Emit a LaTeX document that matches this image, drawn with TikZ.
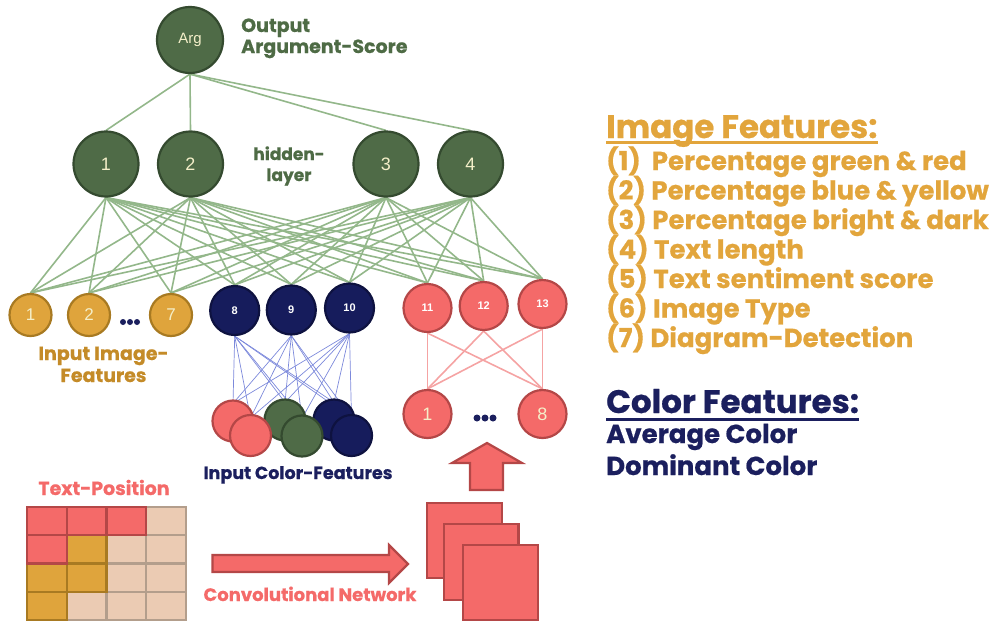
\documentclass[tikz,border=0pt]{standalone}
\usepackage{fontspec}
\newfontfamily\pop{Poppins}[BoldFeatures={FakeBold=0.6}]
\newfontfamily\arial{Liberation Sans}
\definecolor{gfill}{HTML}{4F6B47}
\definecolor{gdraw}{HTML}{344A2F}
\definecolor{gline}{HTML}{93B78A}
\definecolor{yfill}{HTML}{DFA43C}
\definecolor{ydraw}{HTML}{A87A22}
\definecolor{nfill}{HTML}{161C5C}
\definecolor{ndraw}{HTML}{0E1240}
\definecolor{rfill}{HTML}{F46A69}
\definecolor{rdraw}{HTML}{B44747}
\definecolor{pline}{HTML}{F5A3A3}
\definecolor{bline}{HTML}{7C89DB}
\definecolor{otext}{HTML}{E2A53C}
\definecolor{olabel}{HTML}{C48B28}
\definecolor{gtext}{HTML}{4E6B45}
\definecolor{ntext}{HTML}{1B1F5E}
\definecolor{cream}{HTML}{F4EFC9}
\definecolor{beige}{HTML}{EBCBB3}
\definecolor{bdraw}{HTML}{B39E8C}
\pgfdeclarelayer{background}
\pgfsetlayers{background,main}
\newcommand{\fs}[1]{\fontsize{#1}{#1}\selectfont}
\begin{document}
\begin{tikzpicture}[x=1pt,y=-1pt,
  neuron/.style={circle,inner sep=0pt,line width=2.2pt,font=\arial\fs{18},text=cream},
  gnode/.style={neuron,fill=gfill,draw=gdraw,minimum size=65pt},
  ynode/.style={neuron,fill=yfill,draw=ydraw,minimum size=42pt,font=\arial\fs{17}},
  nnode/.style={neuron,fill=nfill,draw=ndraw,minimum size=49pt,text=white,font=\arial\bfseries\fs{11}},
  rnode/.style={neuron,fill=rfill,draw=rdraw,minimum size=48pt,text=white,font=\arial\bfseries\fs{11}},
  rbig/.style={rnode,text=cream,font=\arial\fs{18}},
  cnode/.style={circle,inner sep=0pt,line width=2.2pt,minimum size=41pt},
  lbl/.style={inner sep=0pt},
  gconn/.style={draw=gline,line width=1.6pt},
  bconn/.style={draw=bline,line width=0.7pt},
  pconn/.style={draw=pline,line width=1.6pt},
  cell/.style={line width=2.2pt}
]
\useasboundingbox (0,0) rectangle (997,624);

% output
\node[gnode,minimum size=66pt,font=\arial\fs{15}] (arg) at (190,40) {Arg};
% hidden
\node[gnode] (h1) at (106,164) {1};
\node[gnode] (h2) at (190.5,164) {2};
\node[gnode] (h3) at (386,164) {3};
\node[gnode] (h4) at (470.5,164) {4};
% inputs
\node[ynode] (i1) at (30.5,315) {1};
\node[ynode] (i2) at (89,315) {2};
\node[ynode] (i7) at (171,315) {7};
\node[nnode] (i8) at (234.7,310.5) {8};
\node[nnode] (i9) at (291.3,310) {9};
\node[nnode] (i10) at (349.5,308) {10};
\node[rnode] (i11) at (427.5,308) {11};
\node[rnode] (i12) at (483.7,306) {12};
\node[rnode] (i13) at (542.5,304) {13};
% cnn outputs
\node[rbig] (r1) at (427.5,414) {1};
\node[rbig] (r8) at (542.5,414) {8};
% color feature circles (back row, then front row)
\node[cnode,fill=rfill,draw=rdraw] (cp1) at (233,421) {};
\node[cnode,fill=gfill,draw=gdraw] (cg1) at (285,420) {};
\node[cnode,fill=nfill,draw=ndraw] (cn1) at (334,420) {};
\node[cnode,fill=rfill,draw=rdraw] (cp2) at (250.5,435.5) {};
\node[cnode,fill=gfill,draw=gdraw] (cg2) at (302,436) {};
\node[cnode,fill=nfill,draw=ndraw] (cn2) at (351.5,435.5) {};

\begin{pgfonlayer}{background}
  \foreach \h in {h1,h2,h3,h4}{
    \draw[gconn] (arg.south) -- (\h.north);
    \foreach \i in {i1,i2,i7,i8,i9,i10,i11,i12,i13}{
      \draw[gconn] (\h.south) -- (\i.north);
    }
  }
  \foreach \t in {i8,i9,i10}{
    \foreach \c in {cp1,cp2,cg1,cg2,cn1,cn2}{
      \draw[bconn] (\t.south) -- ([yshift=-4pt]\c.north);
    }
  }
  \foreach \t in {i11,i12,i13}{
    \foreach \c in {r1,r8}{
      \draw[pconn] (\t.south) -- (\c.north);
    }
  }
\end{pgfonlayer}

% dots
\foreach \x in {123,130,137}{\fill[ntext] (\x,322) circle (3pt);}
\foreach \x in {477,485,493}{\fill[ntext] (\x,418) circle (3.5pt);}

% labels
\node[lbl,text=gtext,anchor=base west,font=\pop\bfseries\fs{19}] (lo1) at (241,32) {Output};
\node[lbl,text=gtext,anchor=base west,font=\pop\bfseries\fs{19}] (lo2) at (241,53) {Argument-Score};
\node[lbl,text=gtext,anchor=base,font=\pop\bfseries\fs{17}] (lh1) at (289,160) {hidden-};
\node[lbl,text=gtext,anchor=base,font=\pop\bfseries\fs{17}] (lh2) at (289,181) {layer};
\node[lbl,text=olabel,anchor=base,font=\pop\bfseries\fs{19}] (li1) at (103.5,360) {Input Image-};
\node[lbl,text=olabel,anchor=base,font=\pop\bfseries\fs{19}] (li2) at (103.5,382) {Features};
\node[lbl,text=ntext,anchor=base,font=\pop\bfseries\fs{17.5}] (lc) at (298,479) {Input Color-Features};
\node[lbl,text=rfill,anchor=base,font=\pop\bfseries\fs{19}] (lt) at (104,495) {Text-Position};
\node[lbl,text=rfill,anchor=base,font=\pop\bfseries\fs{18}] (lconv) at (310,601) {Convolutional Network};

% grid
\def\gx{27}\def\gy{507}\def\cw{39.7}\def\ch{28.25}
\foreach \r/\c/\f/\d in {0/3/beige/bdraw,1/2/beige/bdraw,1/3/beige/bdraw,2/2/beige/bdraw,2/3/beige/bdraw,3/1/beige/bdraw,3/2/beige/bdraw,3/3/beige/bdraw,
  1/1/yfill/ydraw,2/0/yfill/ydraw,2/1/yfill/ydraw,3/0/yfill/ydraw,
  0/0/rfill/rdraw,0/1/rfill/rdraw,0/2/rfill/rdraw,1/0/rfill/rdraw}{
  \draw[cell,fill=\f,draw=\d] ({\gx+\c*\cw},{\gy+\r*\ch}) rectangle ++(\cw,\ch);
}

% right arrow
\draw[fill=rfill,draw=rdraw,line width=2.2pt,line join=miter]
  (212.5,555) -- (389,555) -- (389,545) -- (408,564) -- (389,583) -- (389,572) -- (212.5,572) -- cycle;
% up arrow
\draw[fill=rfill,draw=rdraw,line width=2.2pt,line join=miter]
  (470,490) -- (470,463) -- (452,463) -- (487,443) -- (522,463) -- (503,463) -- (503,490) -- cycle;
% stacked squares
\draw[fill=rfill,draw=rdraw,line width=2.2pt] (427,503) rectangle (502,578);
\draw[fill=rfill,draw=rdraw,line width=2.2pt] (444,524) rectangle (518.5,600);
\draw[fill=rfill,draw=rdraw,line width=2.2pt] (463,545) rectangle (538,620);

% right text
\node[lbl,text=otext,anchor=base west,font=\pop\bfseries\fs{32.5}] (tif) at (606,138) {Image Features:};
\draw[otext,line width=2.2pt] (606,142.5) -- (tif.base east |- 0,142.5);
\foreach \t [count=\k from 0] in {{(1)\ \ Percentage green \& red},{(2) Percentage blue \& yellow},{(3) Percentage bright \& dark},{(4) Text length},{(5) Text sentiment score},{(6) Image Type},{(7) Diagram-Detection}}{
  \node[lbl,text=otext,anchor=base west,font=\pop\bfseries\fs{26}] (tf\k) at (606,{170+29.5*\k}) {\t};
}
\node[lbl,text=ntext,anchor=base west,font=\pop\bfseries\fs{32.5}] (tcf) at (606,413) {Color Features:};
\draw[ntext,line width=2.2pt] (606,419.5) -- (tcf.base east |- 0,419.5);
\node[lbl,text=ntext,anchor=base west,font=\pop\bfseries\fs{26}] (tav) at (606,443) {Average Color};
\node[lbl,text=ntext,anchor=base west,font=\pop\bfseries\fs{26}] (tdo) at (606,475) {Dominant Color};
\end{tikzpicture}
\end{document}
